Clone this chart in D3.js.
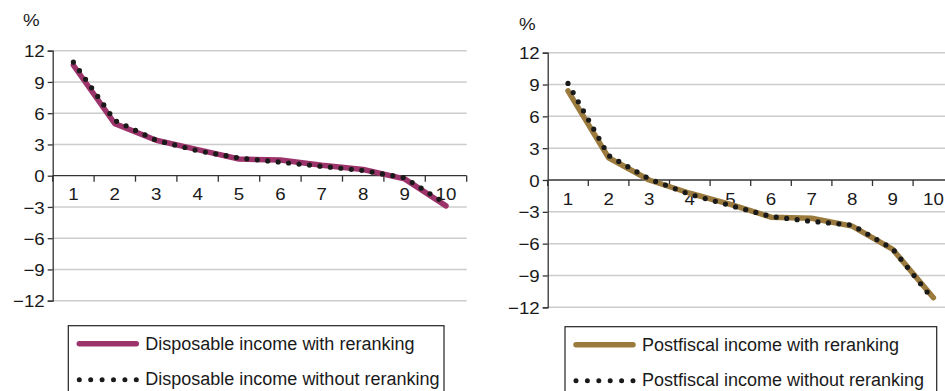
<!DOCTYPE html>
<html>
<head>
<meta charset="utf-8">
<script src="https://cdn.jsdelivr.net/npm/d3@7"></script>
<style>
  html, body { margin: 0; padding: 0; background: #fff; }
  svg { display: block; font-family: "Liberation Sans", Arial, Helvetica, sans-serif; }
</style>
</head>
<body>
<svg id="chart" width="945" height="391"></svg>
<script>
// ---- Data ----
const deciles = ["1", "2", "3", "4", "5", "6", "7", "8", "9", "10"];
const yTicks = [12, 9, 6, 3, 0, -3, -6, -9, -12];
const dispWith = [10.6, 5.0, 3.4, 2.5, 1.6, 1.5, 1.0, 0.6, -0.3, -2.9];
const dispWithout = [10.9, 5.3, 3.4, 2.4, 1.7, 1.3, 0.9, 0.5, -0.2, -2.7];
const postWith = [8.4, 2.1, 0.0, -1.25, -2.3, -3.5, -3.6, -4.35, -6.55, -11.1];
const postWithout = [9.1, 2.3, 0.1, -1.35, -2.4, -3.45, -3.9, -4.25, -6.5, -11.3];
const legendLeft = ["Disposable income with reranking", "Disposable income without reranking"];
const legendRight = ["Postfiscal income with reranking", "Postfiscal income without reranking"];

const svg = d3.select("#chart");
const FS = 17, SX = 1.1;

function panel(cfg) {
  const g = svg.append("g");
  const x = d3.scaleBand().domain(deciles).range([cfg.x0, cfg.x1]);
  const y = d3.scaleLinear().domain([-12, 12]).range([cfg.yBot, cfg.yTop]);

  // gridlines
  g.append("g").selectAll("line").data(yTicks.filter(d => d !== 0)).join("line")
    .attr("x1", cfg.x0).attr("x2", cfg.x1)
    .attr("y1", d => y(d)).attr("y2", d => y(d))
    .attr("stroke", "#cccccc").attr("stroke-width", 1.5);

  // y axis
  const yAxis = d3.axisLeft(y).tickValues(yTicks).tickSize(5)
    .tickFormat(d => d < 0 ? "\u2212" + Math.abs(d) : String(d));
  const ya = g.append("g").attr("transform", `translate(${cfg.x0},0)`).call(yAxis);
  ya.select(".domain").attr("stroke", "#333").attr("stroke-width", 1.3);
  ya.selectAll(".tick line").attr("stroke", "#333").attr("stroke-width", 1.3);
  ya.selectAll(".tick text").attr("x", 0).attr("dy", "0.36em")
    .attr("transform", `translate(-8,0) scale(${SX},1)`)
    .attr("font-size", FS).attr("fill", "#1a1a1a")
    .attr("font-family", "Liberation Sans, Arial, sans-serif");

  // x axis at zero (ticks at band boundaries)
  g.append("line").attr("x1", cfg.x0).attr("x2", cfg.x1)
    .attr("y1", y(0)).attr("y2", y(0)).attr("stroke", "#333").attr("stroke-width", 1.3);
  const bounds = deciles.map(d => x(d)).concat([x(deciles[deciles.length - 1]) + x.bandwidth()]);
  g.append("g").selectAll("line").data(bounds).join("line")
    .attr("x1", d => d).attr("x2", d => d)
    .attr("y1", y(0)).attr("y2", y(0) + 6)
    .attr("stroke", "#333").attr("stroke-width", 1.3);
  g.append("g").selectAll("text").data(deciles).join("text")
    .attr("transform", d => `translate(${x(d) + x.bandwidth() / 2},${y(0) + cfg.labelDy}) scale(${SX},1)`)
    .attr("text-anchor", "middle").attr("font-size", FS).attr("fill", "#1a1a1a")
    .text(d => d);

  // % label
  g.append("text").attr("transform", `translate(${cfg.pctX},${cfg.pctY}) scale(${SX},1)`)
    .attr("font-size", FS).attr("fill", "#1a1a1a").text("%");

  const line = d3.line().x((d, i) => x(deciles[i]) + x.bandwidth() / 2).y(d => y(d));

  g.append("path").datum(cfg.solid).attr("d", line)
    .attr("fill", "none").attr("stroke", cfg.color).attr("stroke-width", 5.5)
    .attr("stroke-linejoin", "round").attr("stroke-linecap", "round");
  g.append("path").datum(cfg.dotted).attr("d", line)
    .attr("fill", "none").attr("stroke", "#1a1a1a").attr("stroke-width", 5.2)
    .attr("stroke-dasharray", "0,10.5").attr("stroke-linecap", "round");

  // legend
  const lg = g.append("g");
  lg.append("rect").attr("x", cfg.lx0).attr("y", cfg.ly0)
    .attr("width", cfg.lx1 - cfg.lx0).attr("height", 100)
    .attr("fill", "#fff").attr("stroke", "#222").attr("stroke-width", 1.2);
  lg.append("line").attr("x1", cfg.lx0 + 11).attr("x2", cfg.lx0 + 68)
    .attr("y1", cfg.ly0 + 18).attr("y2", cfg.ly0 + 18)
    .attr("stroke", cfg.color).attr("stroke-width", 5.5).attr("stroke-linecap", "round");
  lg.append("line").attr("x1", cfg.lx0 + 11).attr("x2", cfg.lx0 + 68)
    .attr("y1", cfg.ly0 + 54).attr("y2", cfg.ly0 + 54)
    .attr("stroke", "#1a1a1a").attr("stroke-width", 5)
    .attr("stroke-dasharray", "0,11.4").attr("stroke-linecap", "round");
  lg.selectAll("text.lt").data(cfg.labels).join("text").attr("class", "lt")
    .attr("x", cfg.lx0 + 77)
    .attr("y", (d, i) => cfg.ly0 + 24 + i * 35)
    .attr("font-size", 18).attr("fill", "#1a1a1a")
    .text(d => d);
}

panel({
  x0: 52.7, x1: 466.7, yTop: 50.7, yBot: 300.7,
  solid: dispWith, dotted: dispWithout, color: "#9c346b",
  labelDy: 24, pctX: 23, pctY: 26,
  lx0: 68.3, lx1: 444, ly0: 325.7, labels: legendLeft
});
panel({
  x0: 547.7, x1: 953.7, yTop: 52.7, yBot: 307.3,
  solid: postWith, dotted: postWithout, color: "#9b7a3e",
  labelDy: 25, pctX: 519, pctY: 30,
  lx0: 565, lx1: 936.7, ly0: 326.7, labels: legendRight
});
</script>
</body>
</html>
